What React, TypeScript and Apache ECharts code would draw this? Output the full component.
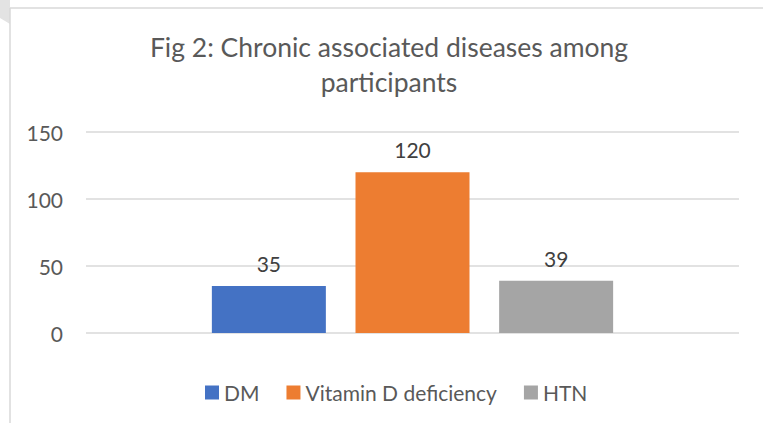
import React, { useEffect, useRef } from "react";
import * as echarts from "echarts";

const categories = [""];
const seriesNames = ["DM", "Vitamin D deficiency", "HTN"];
const seriesValues = [[35], [120], [39]];
const seriesColors = ["#4472C4", "#ED7D31", "#A5A5A5"];
const yTicks = { min: 0, max: 150, interval: 50 };
const titleLines = ["Fig 2: Chronic associated diseases among", "participants"];

const FONT = "Lato, 'Open Sans', sans-serif";

export default function App() {
  const ref = useRef<HTMLDivElement>(null);
  useEffect(() => {
    if (!ref.current) return;
    const chart = echarts.init(ref.current, undefined, { renderer: "svg" });
    chart.setOption({
      animation: false,
      backgroundColor: "#ffffff",
      textStyle: { fontFamily: FONT },
      grid: { left: 86, right: 24, top: 132, bottom: 90 },
      graphic: [
        {
          type: "polygon",
          shape: { points: [[0, 0], [10, 0], [10, 24], [0, 18]] },
          style: { fill: "#e3e3e3" },
          silent: true,
        },
        {
          type: "line",
          shape: { x1: 10, y1: 8, x2: 763, y2: 8 },
          style: { stroke: "#d9d9d9", lineWidth: 1.5 },
          silent: true,
        },
        {
          type: "line",
          shape: { x1: 10, y1: 8, x2: 10, y2: 423 },
          style: { stroke: "#d9d9d9", lineWidth: 1.5 },
          silent: true,
        },
        {
          type: "text",
          x: 389,
          y: 29,
          style: {
            text: titleLines.join("\n"),
            fontFamily: FONT,
            fontSize: 26.5,
            lineHeight: 35,
            fill: "#595959",
            align: "center",
            verticalAlign: "top",
          },
          silent: true,
        },
      ],
      legend: {
        left: 200,
        top: 377,
        itemWidth: 14,
        itemHeight: 14,
        itemGap: 27,
        icon: "rect",
        textStyle: { fontFamily: FONT, fontSize: 21, color: "#595959" },
        data: seriesNames,
      },
      xAxis: {
        type: "category",
        data: categories,
        axisLine: { show: false },
        axisTick: { show: false },
        axisLabel: { show: false },
        splitLine: { show: false },
      },
      yAxis: {
        type: "value",
        min: yTicks.min,
        max: yTicks.max,
        interval: yTicks.interval,
        axisLine: { show: false },
        axisTick: { show: false },
        axisLabel: { fontFamily: FONT, fontSize: 21, color: "#595959", margin: 23 },
        splitLine: { lineStyle: { color: "#d9d9d9", width: 1.5 } },
      },
      series: seriesNames.map((name, i) => ({
        name,
        type: "bar",
        data: seriesValues[i],
        barWidth: 114,
        barGap: "26%",
        itemStyle: { color: seriesColors[i] },
        label: {
          show: true,
          position: "top",
          distance: 12,
          fontFamily: FONT,
          fontSize: 21,
          color: "#404040",
        },
      })),
    });
    return () => chart.dispose();
  }, []);
  return (
    <div
      ref={ref}
      style={{ position: "fixed", left: 0, top: 0, width: 763, height: 423 }}
    />
  );
}
